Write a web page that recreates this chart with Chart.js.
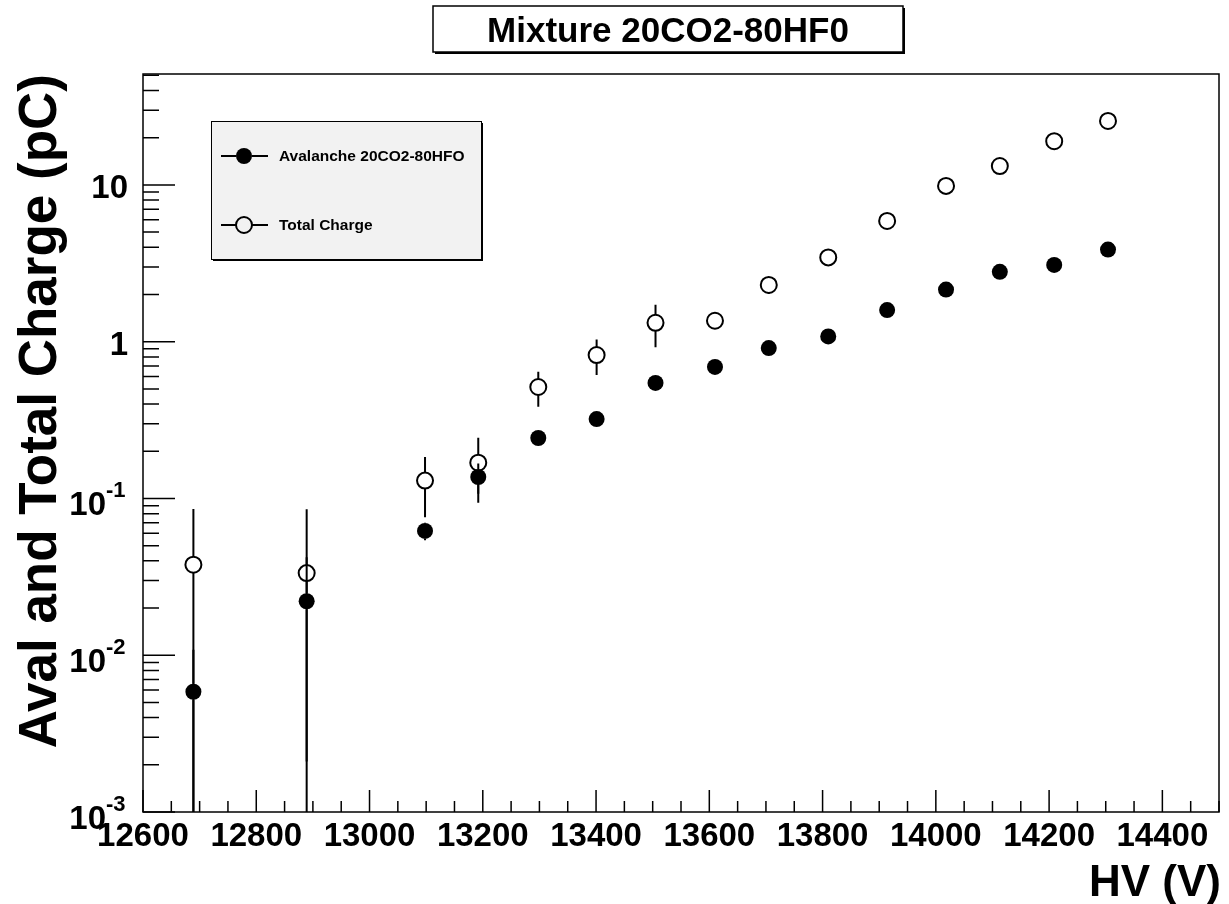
<!DOCTYPE html>
<html>
<head>
<meta charset="utf-8">
<script src="https://cdn.jsdelivr.net/npm/chart.js@4.4.1/dist/chart.umd.min.js"></script>
<style>
  html, body { margin: 0; padding: 0; background: #fff; }
  #wrap { width: 1229px; height: 904px; }
</style>
</head>
<body>
<div id="wrap"><canvas id="chart" width="1229" height="904"></canvas></div>
<script>
// data
const hv = [12689, 12889, 13098, 13192, 13298, 13401, 13505, 13610, 13705, 13810, 13914, 14018, 14113, 14209, 14304];
const avalanche = [0.00585, 0.0221, 0.0621, 0.137, 0.243, 0.321, 0.546, 0.69, 0.91, 1.08, 1.59, 2.15, 2.79, 3.09, 3.87];
const avalancheErr = [0.005, 0.02, 0.008, 0.03, 0.02, 0.02, 0.03, 0.03, 0.04, 0.05, 0.06, 0.08, 0.1, 0.1, 0.12];
const totalCharge = [0.0378, 0.0334, 0.130, 0.169, 0.514, 0.822, 1.32, 1.36, 2.30, 3.45, 5.89, 9.86, 13.2, 19.0, 25.6];
const totalErr = [0.048, 0.052, 0.054, 0.075, 0.13, 0.21, 0.40, 0.10, 0.28, 0.3, 0.4, 0.5, 0.6, 0.8, 1.0];

const seriesNames = ['Avalanche 20CO2-80HFO', 'Total Charge'];
const titleText = 'Mixture 20CO2-80HF0';
const xTitle = 'HV (V)';
const yTitle = 'Aval and Total Charge (pC)';

const xRange = [12600, 14500];
const yRange = [0.001, 51];
const xMajorTicks = [12600, 12800, 13000, 13200, 13400, 13600, 13800, 14000, 14200, 14400];
const yDecades = [0.001, 0.01, 0.1, 1, 10];
const yTickLabels = [['10', '-3'], ['10', '-2'], ['10', '-1'], ['1', ''], ['10', '']];

const FONT = '"Liberation Sans", Arial, Helvetica, sans-serif';
const R = 8;

function pts(ys, errs) {
  return hv.map((x, i) => ({ x: x, y: ys[i], e: errs[i] }));
}

// error bars, ROOT style: gap where the marker is
const errorBars = {
  id: 'errorBars',
  afterDatasetsDraw(chart) {
    const ctx = chart.ctx, a = chart.chartArea;
    const ys = chart.scales.y;
    ctx.save();
    ctx.beginPath();
    ctx.rect(a.left, a.top, a.right - a.left, a.bottom - a.top);
    ctx.clip();
    ctx.strokeStyle = '#000';
    ctx.lineWidth = 2;
    chart.data.datasets.forEach((ds, di) => {
      const meta = chart.getDatasetMeta(di);
      meta.data.forEach((el, i) => {
        const d = ds.data[i];
        const yc = el.y;
        const hi = ys.getPixelForValue(d.y + d.e);
        const lo = d.y - d.e > 0 ? ys.getPixelForValue(d.y - d.e) : a.bottom + 10;
        ctx.beginPath();
        if (hi < yc - R) { ctx.moveTo(el.x, yc - R); ctx.lineTo(el.x, hi); }
        if (lo > yc + R) { ctx.moveTo(el.x, yc + R); ctx.lineTo(el.x, lo); }
        ctx.stroke();
      });
    });
    ctx.restore();
  }
};

// frame, ticks, labels, title and legend
const rootFrame = {
  id: 'rootFrame',
  afterDraw(chart) {
    const ctx = chart.ctx, a = chart.chartArea;
    const xs = chart.scales.x, ys = chart.scales.y;
    ctx.save();
    ctx.strokeStyle = '#000';
    ctx.fillStyle = '#000';

    // frame
    ctx.lineWidth = 1.5;
    ctx.strokeRect(a.left, a.top, a.right - a.left, a.bottom - a.top);

    // x ticks
    ctx.beginPath();
    for (let v = xRange[0]; v <= xRange[1]; v += 50) {
      const px = xs.getPixelForValue(v);
      const len = xMajorTicks.includes(v) ? 22 : 11;
      ctx.moveTo(px, a.bottom);
      ctx.lineTo(px, a.bottom - len);
    }
    // y ticks
    yDecades.forEach(dec => {
      for (let k = 1; k <= 9; k++) {
        const v = dec * k;
        if (v > yRange[1]) break;
        const py = ys.getPixelForValue(v);
        ctx.moveTo(a.left, py);
        ctx.lineTo(a.left + (k === 1 ? 32 : 16), py);
      }
    });
    ctx.stroke();

    // x tick labels
    ctx.font = 'bold 33px ' + FONT;
    ctx.textAlign = 'center';
    ctx.textBaseline = 'alphabetic';
    xMajorTicks.forEach(v => {
      ctx.fillText(String(v), xs.getPixelForValue(v), a.bottom + 34);
    });

    // y tick labels
    yDecades.forEach((dec, i) => {
      const py = ys.getPixelForValue(dec);
      const [base, exp] = yTickLabels[i];
      ctx.font = 'bold 33px ' + FONT;
      ctx.textAlign = 'right';
      if (exp) {
        ctx.fillText(base, 106, py + 17);
        ctx.font = 'bold 22px ' + FONT;
        ctx.textAlign = 'left';
        ctx.fillText(exp, 106, py - 1);
      } else {
        ctx.fillText(base, 128, py + 13);
      }
    });

    // axis titles
    ctx.font = 'bold 44px ' + FONT;
    ctx.textAlign = 'right';
    ctx.fillText(xTitle, a.right + 2, 896);

    ctx.save();
    ctx.translate(56, a.top);
    ctx.rotate(-Math.PI / 2);
    ctx.font = 'bold 53px ' + FONT;
    ctx.textAlign = 'right';
    ctx.fillText(yTitle, 0, 0);
    ctx.restore();

    // title box
    ctx.fillStyle = '#000';
    ctx.fillRect(435, 8, 470, 46);
    ctx.fillStyle = '#fff';
    ctx.fillRect(433, 6, 470, 46);
    ctx.lineWidth = 1.5;
    ctx.strokeRect(433, 6, 470, 46);
    ctx.fillStyle = '#000';
    ctx.font = 'bold 35px ' + FONT;
    ctx.textAlign = 'center';
    ctx.fillText(titleText, 668, 42);

    // legend box
    ctx.fillStyle = '#000';
    ctx.fillRect(213, 123, 270, 138);
    ctx.fillStyle = '#f2f2f2';
    ctx.fillRect(211, 121, 270, 138);
    ctx.lineWidth = 1;
    ctx.strokeRect(211.5, 121.5, 270, 138);

    const rows = [156, 225];
    ctx.lineWidth = 2;
    rows.forEach((ry, i) => {
      ctx.beginPath();
      ctx.moveTo(221, ry);
      ctx.lineTo(236, ry);
      ctx.moveTo(252, ry);
      ctx.lineTo(268, ry);
      ctx.stroke();
      ctx.beginPath();
      ctx.arc(244, ry, R, 0, Math.PI * 2);
      if (i === 0) { ctx.fillStyle = '#000'; ctx.fill(); }
      else { ctx.stroke(); }
      ctx.fillStyle = '#000';
      ctx.font = 'bold 15.5px ' + FONT;
      ctx.textAlign = 'left';
      ctx.textBaseline = 'middle';
      ctx.fillText(seriesNames[i], 279, ry + 1);
    });
    ctx.restore();
  }
};

new Chart(document.getElementById('chart'), {
  type: 'scatter',
  data: {
    datasets: [
      {
        label: seriesNames[0],
        data: pts(avalanche, avalancheErr),
        pointStyle: 'circle',
        pointRadius: R,
        pointBackgroundColor: '#000',
        pointBorderColor: '#000',
        pointBorderWidth: 0
      },
      {
        label: seriesNames[1],
        data: pts(totalCharge, totalErr),
        pointStyle: 'circle',
        pointRadius: R,
        pointBackgroundColor: 'rgba(0,0,0,0)',
        pointBorderColor: '#000',
        pointBorderWidth: 2
      }
    ]
  },
  options: {
    responsive: false,
    animation: false,
    layout: { padding: { left: 143, top: 74, right: 4, bottom: 92 } },
    plugins: { legend: { display: false }, title: { display: false }, tooltip: { enabled: false } },
    scales: {
      x: { type: 'linear', min: xRange[0], max: xRange[1], display: false },
      y: { type: 'logarithmic', min: yRange[0], max: yRange[1], display: false }
    }
  },
  plugins: [errorBars, rootFrame]
});
</script>
</body>
</html>
